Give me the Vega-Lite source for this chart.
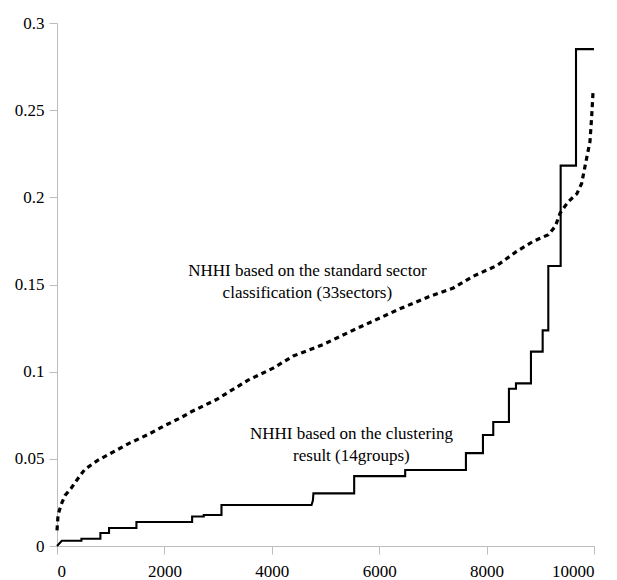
{
  "$schema": "https://vega.github.io/schema/vega-lite/v6.json",
  "width": 537,
  "height": 523,
  "autosize": {"type": "none"},
  "padding": {"left": 57, "top": 23, "right": 23, "bottom": 34},
  "config": {
    "view": {"stroke": null},
    "axis": {
      "grid": false,
      "title": null,
      "domainColor": "#bdbdbd",
      "tickColor": "#bdbdbd",
      "tickSize": 8
    }
  },
  "datasets": {
    "sector": [
      {"i": 0, "x": 0, "y": 0.009},
      {"i": 1, "x": 20, "y": 0.018},
      {"i": 2, "x": 80, "y": 0.024},
      {"i": 3, "x": 150, "y": 0.029},
      {"i": 4, "x": 260, "y": 0.033},
      {"i": 5, "x": 420, "y": 0.04},
      {"i": 6, "x": 520, "y": 0.044},
      {"i": 7, "x": 750, "y": 0.049},
      {"i": 8, "x": 1050, "y": 0.054},
      {"i": 9, "x": 1350, "y": 0.059},
      {"i": 10, "x": 1700, "y": 0.064},
      {"i": 11, "x": 2000, "y": 0.069},
      {"i": 12, "x": 2300, "y": 0.0735},
      {"i": 13, "x": 2500, "y": 0.077},
      {"i": 14, "x": 2970, "y": 0.084},
      {"i": 15, "x": 3550, "y": 0.095},
      {"i": 16, "x": 4025, "y": 0.102},
      {"i": 17, "x": 4400, "y": 0.109},
      {"i": 18, "x": 4950, "y": 0.1155},
      {"i": 19, "x": 5600, "y": 0.125},
      {"i": 20, "x": 6380, "y": 0.136},
      {"i": 21, "x": 6950, "y": 0.1433},
      {"i": 22, "x": 7380, "y": 0.148},
      {"i": 23, "x": 7750, "y": 0.1547},
      {"i": 24, "x": 8200, "y": 0.161},
      {"i": 25, "x": 8560, "y": 0.169},
      {"i": 26, "x": 8870, "y": 0.1748},
      {"i": 27, "x": 9150, "y": 0.1786},
      {"i": 28, "x": 9280, "y": 0.1834},
      {"i": 29, "x": 9370, "y": 0.191},
      {"i": 30, "x": 9520, "y": 0.1975},
      {"i": 31, "x": 9680, "y": 0.202},
      {"i": 32, "x": 9770, "y": 0.208},
      {"i": 33, "x": 9860, "y": 0.222},
      {"i": 34, "x": 9925, "y": 0.232},
      {"i": 35, "x": 9957, "y": 0.2465},
      {"i": 36, "x": 9985, "y": 0.262}
    ],
    "cluster": [
      {"i": 0, "x": 0, "y": 0},
      {"i": 1, "x": 90, "y": 0.003},
      {"i": 2, "x": 455, "y": 0.003},
      {"i": 3, "x": 455, "y": 0.0042},
      {"i": 4, "x": 808, "y": 0.0042},
      {"i": 5, "x": 808, "y": 0.0075},
      {"i": 6, "x": 969, "y": 0.0075},
      {"i": 7, "x": 969, "y": 0.0103},
      {"i": 8, "x": 1479, "y": 0.0103},
      {"i": 9, "x": 1479, "y": 0.0138},
      {"i": 10, "x": 2516, "y": 0.0138},
      {"i": 11, "x": 2516, "y": 0.0169},
      {"i": 12, "x": 2733, "y": 0.0169},
      {"i": 13, "x": 2733, "y": 0.0178},
      {"i": 14, "x": 3063, "y": 0.0178},
      {"i": 15, "x": 3063, "y": 0.0235},
      {"i": 16, "x": 4740, "y": 0.0235},
      {"i": 17, "x": 4765, "y": 0.026},
      {"i": 18, "x": 4775, "y": 0.0302},
      {"i": 19, "x": 5534, "y": 0.0302},
      {"i": 20, "x": 5534, "y": 0.0401},
      {"i": 21, "x": 6484, "y": 0.0401},
      {"i": 22, "x": 6484, "y": 0.0436},
      {"i": 23, "x": 7615, "y": 0.0436},
      {"i": 24, "x": 7615, "y": 0.0533},
      {"i": 25, "x": 7932, "y": 0.0533},
      {"i": 26, "x": 7932, "y": 0.0637},
      {"i": 27, "x": 8124, "y": 0.0637},
      {"i": 28, "x": 8124, "y": 0.0711},
      {"i": 29, "x": 8416, "y": 0.0711},
      {"i": 30, "x": 8416, "y": 0.0902},
      {"i": 31, "x": 8547, "y": 0.0902},
      {"i": 32, "x": 8547, "y": 0.0933},
      {"i": 33, "x": 8826, "y": 0.0933},
      {"i": 34, "x": 8826, "y": 0.1115},
      {"i": 35, "x": 9044, "y": 0.1115},
      {"i": 36, "x": 9044, "y": 0.1237},
      {"i": 37, "x": 9149, "y": 0.1237},
      {"i": 38, "x": 9149, "y": 0.1606},
      {"i": 39, "x": 9379, "y": 0.1606},
      {"i": 40, "x": 9379, "y": 0.2182},
      {"i": 41, "x": 9665, "y": 0.2182},
      {"i": 42, "x": 9665, "y": 0.285},
      {"i": 43, "x": 10000, "y": 0.285}
    ],
    "notes": [
      {"x": 4662, "y": 0.158, "label": "NHHI based on the standard sector"},
      {"x": 4662, "y": 0.1454, "label": "classification (33sectors)"},
      {"x": 5482, "y": 0.064, "label": "NHHI based on the clustering"},
      {"x": 5482, "y": 0.0516, "label": "result (14groups)"}
    ]
  },
  "encoding": {
    "x": {
      "field": "x",
      "type": "quantitative",
      "scale": {"domain": [0, 10000], "nice": false},
      "axis": {
        "values": [0, 2000, 4000, 6000, 8000, 10000],
        "format": "d",
        "labelPadding": 9,
        "labelFont": "Liberation Serif, Times New Roman, serif",
        "labelFontSize": 17,
        "labelColor": "#000000"
      }
    },
    "y": {
      "field": "y",
      "type": "quantitative",
      "scale": {"domain": [0, 0.3], "nice": false},
      "axis": {
        "values": [0, 0.05, 0.1, 0.15, 0.2, 0.25, 0.3],
        "format": "~g",
        "labelPadding": 5,
        "labelFont": "Liberation Serif, Times New Roman, serif",
        "labelFontSize": 17,
        "labelColor": "#000000"
      }
    }
  },
  "layer": [
    {
      "data": {"name": "sector"},
      "mark": {"type": "line", "color": "#000000", "strokeWidth": 3.2, "strokeDash": [5, 4]},
      "encoding": {"order": {"field": "i", "type": "quantitative"}}
    },
    {
      "data": {"name": "cluster"},
      "mark": {"type": "line", "color": "#000000", "strokeWidth": 2.1},
      "encoding": {"order": {"field": "i", "type": "quantitative"}}
    },
    {
      "data": {"name": "notes"},
      "mark": {"type": "text", "font": "Liberation Serif", "fontSize": 17, "color": "#000000", "align": "center", "baseline": "middle"},
      "encoding": {"text": {"field": "label", "type": "nominal"}}
    }
  ]
}
